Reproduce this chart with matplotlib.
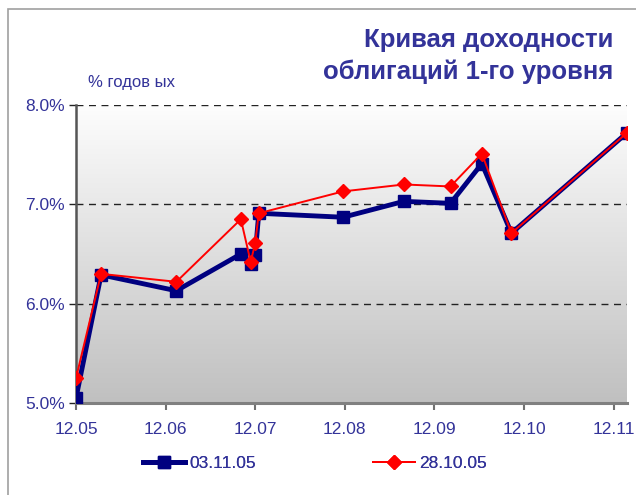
import numpy as np
import matplotlib
matplotlib.use("Agg")
import matplotlib.pyplot as plt
from matplotlib.patches import Rectangle
from matplotlib.ticker import FuncFormatter
from matplotlib.colors import LinearSegmentedColormap
from matplotlib import font_manager

plt.rcParams['font.family'] = ['Liberation Sans', 'DejaVu Sans']
names = {f.name for f in font_manager.fontManager.ttflist}
narrow = 'Liberation Sans Narrow' if 'Liberation Sans Narrow' in names else 'Liberation Sans'

# Maturity in years from 12.05
tick_labels = ["12.05", "12.06", "12.07", "12.08", "12.09", "12.10", "12.11"]
mat_blue = [0.0, 0.28, 1.12, 1.84, 1.95, 2.0, 2.04, 2.98, 3.66, 4.18, 4.53, 4.86, 6.15]
yld_blue = [5.05, 6.29, 6.13, 6.50, 6.40, 6.49, 6.91, 6.87, 7.03, 7.01, 7.41, 6.71, 7.72]
mat_red = [0.0, 0.28, 1.12, 1.84, 1.95, 2.0, 2.04, 2.98, 3.66, 4.18, 4.53, 4.86, 6.15]
yld_red = [5.25, 6.30, 6.22, 6.85, 6.42, 6.61, 6.91, 7.13, 7.20, 7.18, 7.51, 6.71, 7.72]
label_blue = "03.11.05"
label_red = "28.10.05"

txt_color = "#333399"
W, H = 636, 495
fig = plt.figure(figsize=(W / 100, H / 100), dpi=100)
fig.patch.set_facecolor("white")
fig.patches.append(Rectangle((8 / W, -0.1), 1.2, 1 - 9 / H + 0.1, transform=fig.transFigure,
                             fill=False, edgecolor="#a0a0a0", linewidth=1.2))

ax = fig.add_axes([76 / W, 1 - 403 / H, (627 - 76) / W, (403 - 105) / H])
ax.set_xlim(0, 6.15)

# gradient background (white top -> gray bottom)
grad = np.linspace(0, 1, 256).reshape(-1, 1)
cmap = LinearSegmentedColormap.from_list("g", ["#fdfdfd", "#c0c0c0"])
ax.imshow(grad, aspect="auto", cmap=cmap, extent=[0, 6.15, 5.0, 8.0], zorder=0, origin="upper")
ax.set_xlim(0, 6.15)
ax.set_ylim(5.0, 8.0)

for yv in [6.0, 7.0, 8.0]:
    ax.axhline(yv, color="#222222", linestyle=(0, (5, 4)), linewidth=1.0, zorder=1)

hb, = ax.plot(mat_blue, yld_blue, color="#000080", linewidth=3.5, marker="s", markersize=9,
              markerfacecolor="#000080", markeredgecolor="#000080", zorder=3, label=label_blue)
hr, = ax.plot(mat_red, yld_red, color="#ff0000", linewidth=1.4, marker="D", markersize=7,
              markerfacecolor="#ff0000", markeredgecolor="#ff0000", zorder=4, label=label_red)

ax.set_xticks(range(len(tick_labels)))
ax.set_xticklabels(tick_labels, family=[narrow, 'DejaVu Sans'])
ax.set_yticks([5.0, 6.0, 7.0, 8.0])
ax.yaxis.set_major_formatter(FuncFormatter(lambda v, p: f"{v:.1f}%"))
ax.tick_params(axis="y", length=5, width=1, color="#222222", labelsize=12.5, labelcolor=txt_color, pad=3)
ax.tick_params(axis="x", length=5, width=1.5, color="#707070", labelsize=12.5, labelcolor=txt_color, pad=9)

for s in ["top", "right"]:
    ax.spines[s].set_visible(False)
ax.spines["left"].set_color("#555555")
ax.spines["left"].set_linewidth(1.8)
ax.spines["bottom"].set_color("#808080")
ax.spines["bottom"].set_linewidth(2.2)

fig.text(613 / W, 1 - 40 / H, "Кривая доходности", ha="right", va="center",
         fontsize=18.5, fontweight="bold", color=txt_color)
fig.text(613 / W, 1 - 72 / H, "облигаций 1-го уровня", ha="right", va="center",
         fontsize=18.5, fontweight="bold", color=txt_color)
fig.text(88 / W, 1 - 83 / H, "% годов ых", ha="left", va="center", fontsize=12, color=txt_color)

fs = 12.5
fpx = fs * 100 / 72
for h, lab, x0 in [(hb, label_blue, 143), (hr, label_red, 373)]:
    leg = fig.legend([h], [lab], loc="center left", bbox_to_anchor=(x0 / W, 1 - 463 / H),
                     frameon=False, borderaxespad=0, borderpad=0,
                     prop={'family': [narrow, 'DejaVu Sans'], 'size': fs},
                     handlelength=42 / fpx, handletextpad=4 / fpx)
    for t in leg.get_texts():
        t.set_color(txt_color)
    fig.add_artist(leg)

fig.savefig("out.png", dpi=100)
